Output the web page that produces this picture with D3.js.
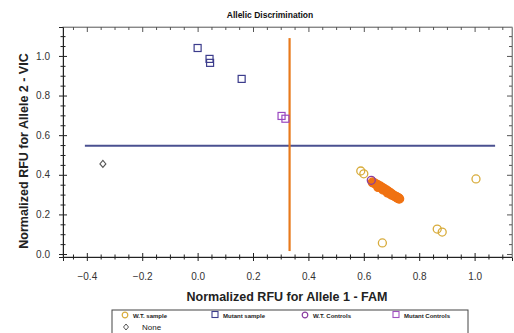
<!DOCTYPE html>
<html><head><meta charset="utf-8">
<script src="https://cdn.jsdelivr.net/npm/d3@7"></script>
<style>body{margin:0;background:#fff}svg{display:block;font-family:Arial,"Liberation Sans",sans-serif}</style>
</head><body><svg id="c" width="514" height="333"></svg>
<script>
const xTicks = [-0.4,-0.2,0.0,0.2,0.4,0.6,0.8,1.0];
const yTicks = [0.0,0.2,0.4,0.6,0.8,1.0];
const mutantSamples = [[0.0,1.04],[0.043,0.985],[0.045,0.965],[0.159,0.884]];
const mutantControls = [[0.303,0.697],[0.317,0.683]];
const wtControls = [[0.627,0.372]];
const wtSamples = [[0.589,0.419],[0.600,0.405],[0.667,0.056],[0.865,0.126],[0.883,0.111],[1.005,0.379]];
const wtCluster = [[0.632,0.362],[0.640,0.356],[0.648,0.350],[0.655,0.343],[0.660,0.340],[0.668,0.333],[0.675,0.327],[0.683,0.320],[0.690,0.313],[0.697,0.306],[0.705,0.298],[0.712,0.292],[0.718,0.287],[0.724,0.282],[0.728,0.279],[0.652,0.338],[0.670,0.325],[0.686,0.310],[0.700,0.300]];
const noneCall = [[-0.342,0.455]];
const xThreshold = {x:0.332, y0:0.015, y1:1.09};
const yThreshold = {y:0.547, x0:-0.407, x1:1.074};
const legendItems = [
  {label:"W.T. sample", shape:"circle", color:"#d8ac3c"},
  {label:"Mutant sample", shape:"square", color:"#3c3c8c"},
  {label:"W.T. Controls", shape:"circle", color:"#8a3ca0"},
  {label:"Mutant Controls", shape:"square", color:"#a050c0"},
  {label:"None", shape:"diamond", color:"#555"}
];

const svg = d3.select("#c");
const L=63,R=512,T=27,B=257;
const x = d3.scaleLinear().domain([-0.486,1.135]).range([L,R]);
const y = d3.scaleLinear().domain([-0.015,1.146]).range([B,T]);
const minorX = d3.range(-0.45,1.13,0.05).map(v=>+v.toFixed(2));
const minorY = d3.range(0,1.15,0.05).map(v=>+v.toFixed(2));
const isMajor = (arr,v)=>arr.some(t=>Math.abs(t-v)<1e-6);

// frame
svg.append("rect").attr("x",L).attr("y",T).attr("width",R-L).attr("height",B-T)
  .attr("fill","none").attr("stroke","#999").attr("stroke-width",1);

// bottom axis
const gx = svg.append("g").attr("transform",`translate(0,${B})`)
  .call(d3.axisBottom(x).tickValues(xTicks).tickSize(4).tickPadding(12).tickFormat(d3.format(".1f")));
gx.select(".domain").attr("stroke","#222");
gx.selectAll(".tick line").attr("y1",-4).attr("y2",4).attr("stroke","#222");
gx.selectAll("text").attr("font-size",10).attr("fill","#333");
const gxm = svg.append("g").attr("transform",`translate(0,${B})`)
  .call(d3.axisBottom(x).tickValues(minorX.filter(v=>!isMajor(xTicks,v))).tickSize(2).tickFormat(""));
gxm.select(".domain").remove();
gxm.selectAll(".tick line").attr("y1",-2.5).attr("y2",2.5).attr("stroke","#222");

// top axis
const gt = svg.append("g").attr("transform",`translate(0,${T})`)
  .call(d3.axisTop(x).tickValues(minorX).tickSize(0).tickFormat(""));
gt.select(".domain").attr("stroke","#888");
gt.selectAll(".tick line").each(function(d){ d3.select(this).attr("y1",0).attr("y2",isMajor(xTicks,d)?5:3).attr("stroke","#555"); });

// left axis
const gy = svg.append("g").attr("transform",`translate(${L},0)`)
  .call(d3.axisLeft(y).tickValues(yTicks).tickSize(4).tickPadding(9).tickFormat(d3.format(".1f")));
gy.select(".domain").attr("stroke","#222");
gy.selectAll(".tick line").attr("x1",-4).attr("x2",4).attr("stroke","#222");
gy.selectAll("text").attr("font-size",10).attr("fill","#333");
const gym = svg.append("g").attr("transform",`translate(${L},0)`)
  .call(d3.axisLeft(y).tickValues(minorY.filter(v=>!isMajor(yTicks,v))).tickSize(2).tickFormat(""));
gym.select(".domain").remove();
gym.selectAll(".tick line").attr("x1",-2.5).attr("x2",2.5).attr("stroke","#222");

// right axis
const gr = svg.append("g").attr("transform",`translate(${R},0)`)
  .call(d3.axisRight(y).tickValues(minorY).tickSize(0).tickFormat(""));
gr.select(".domain").attr("stroke","#888");
gr.selectAll(".tick line").each(function(d){ d3.select(this).attr("x1",isMajor(yTicks,d)?-5:-3).attr("x2",0).attr("stroke","#555"); });

// thresholds
svg.append("line").attr("x1",x(yThreshold.x0)).attr("x2",x(yThreshold.x1))
  .attr("y1",y(yThreshold.y)).attr("y2",y(yThreshold.y)).attr("stroke","#4a5090").attr("stroke-width",2);
svg.append("line").attr("x1",x(xThreshold.x)).attr("x2",x(xThreshold.x))
  .attr("y1",y(xThreshold.y0)).attr("y2",y(xThreshold.y1)).attr("stroke","#e87a1c").attr("stroke-width",2.2);

// points
function squares(data,color){ svg.append("g").selectAll("rect").data(data).join("rect")
  .attr("x",d=>x(d[0])-3.5).attr("y",d=>y(d[1])-3.5).attr("width",7).attr("height",7)
  .attr("fill","none").attr("stroke",color).attr("stroke-width",1.2); }
function circles(data,color,fill,r){ svg.append("g").selectAll("circle").data(data).join("circle")
  .attr("cx",d=>x(d[0])).attr("cy",d=>y(d[1])).attr("r",r)
  .attr("fill",fill).attr("stroke",color).attr("stroke-width",1.3); }
squares(mutantSamples,"#3c3c8c");
squares(mutantControls,"#9a48c0");
circles(wtSamples,"#d8ac3c","none",4);
circles(wtCluster,"#f07212","#f07212",4.4);
circles(wtControls,"#8a3ca0","none",4);
svg.append("g").selectAll("path").data(noneCall).join("path")
  .attr("transform",d=>`translate(${x(d[0])},${y(d[1])})`)
  .attr("d","M0,-3.5L3,0L0,3.5L-3,0Z").attr("fill","none").attr("stroke","#555").attr("stroke-width",1.1);

// titles
svg.append("text").attr("x",270).attr("y",18).attr("text-anchor","middle")
  .attr("font-size",8.5).attr("font-weight","bold").attr("fill","#111").text("Allelic Discrimination");
svg.append("text").attr("x",287).attr("y",301).attr("text-anchor","middle")
  .attr("font-size",12.5).attr("font-weight","bold").attr("fill","#222").text("Normalized RFU for Allele 1 - FAM");
svg.append("text").attr("transform","translate(28,151) rotate(-90)").attr("text-anchor","middle")
  .attr("font-size",12.5).attr("font-weight","bold").attr("fill","#222").text("Normalized RFU for Allele 2 - VIC");

// legend
svg.append("rect").attr("x",112).attr("y",310).attr("width",356).attr("height",40)
  .attr("fill","#fff").attr("stroke","#444").attr("stroke-width",1);
const lg = svg.append("g");
const lpos = [[125,315],[215,315],[305,315],[396,315],[126,327]];
legendItems.forEach((it,i)=>{
  const [px,py]=lpos[i];
  const g = lg.append("g").attr("transform",`translate(${px},${py})`);
  if(it.shape==="circle") g.append("circle").attr("r",2.8).attr("fill","none").attr("stroke",it.color).attr("stroke-width",1.2);
  else if(it.shape==="square") g.append("rect").attr("x",-3).attr("y",-3.5).attr("width",6).attr("height",6).attr("fill","none").attr("stroke",it.color).attr("stroke-width",1.1);
  else g.append("path").attr("d","M0,-3L2.5,0L0,3L-2.5,0Z").attr("fill","none").attr("stroke",it.color);
  g.append("text").attr("x", it.shape==="diamond"?16:8).attr("y",2.5)
    .attr("font-size", it.shape==="diamond"?8:6).attr("font-weight", it.shape==="diamond"?"normal":"bold")
    .attr("fill","#222").text(it.label);
});
</script></body></html>
